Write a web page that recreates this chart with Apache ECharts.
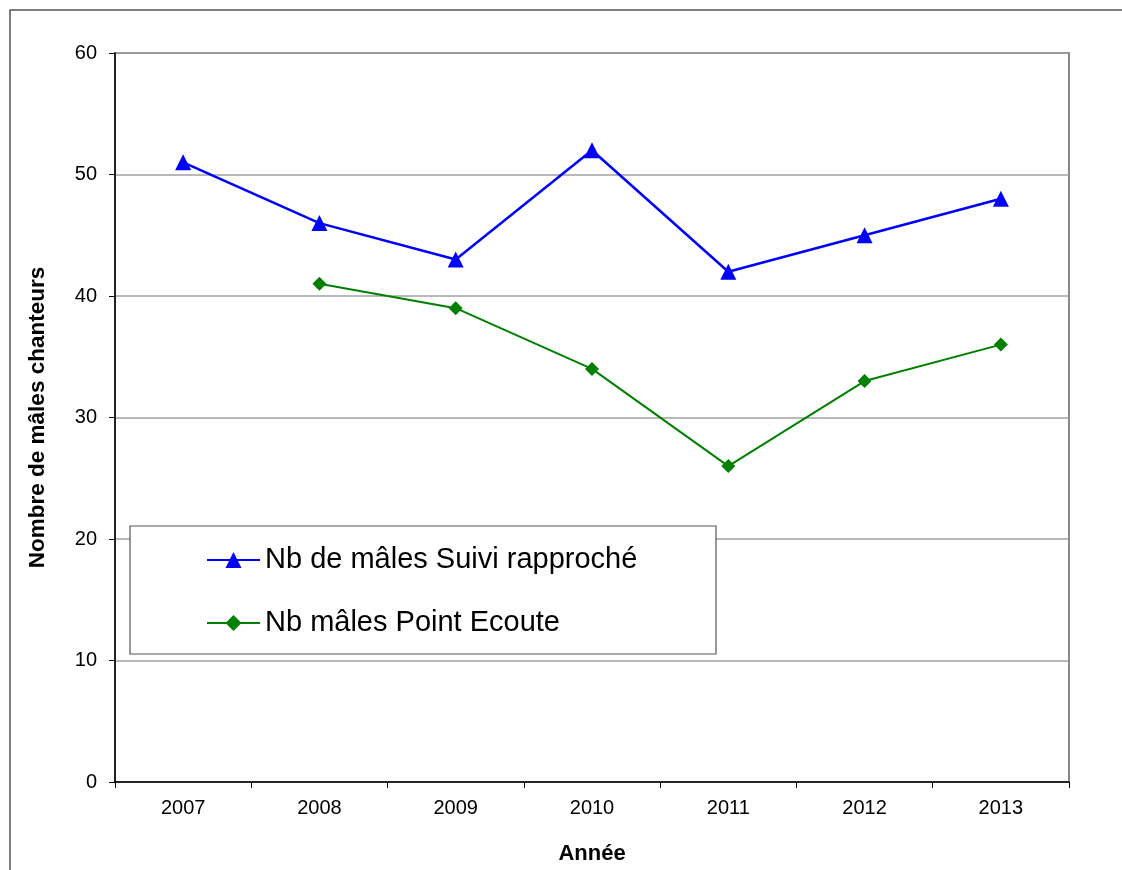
<!DOCTYPE html>
<html>
<head>
<meta charset="utf-8">
<script src="https://cdn.jsdelivr.net/npm/echarts@6/dist/echarts.min.js"></script>
<style>html,body{margin:0;padding:0;background:#fff}#c{width:1122px;height:870px}</style>
</head>
<body>
<div id="c"></div>
<script>
var years = ['2007','2008','2009','2010','2011','2012','2013'];
var suiviRapproche = [51, 46, 43, 52, 42, 45, 48];
var pointEcoute = [null, 41, 39, 34, 26, 33, 36];
var seriesNames = ['Nb de mâles Suivi rapproché', 'Nb mâles Point Ecoute'];
var yTitle = 'Nombre de mâles chanteurs';
var xTitle = 'Année';

var chart = echarts.init(document.getElementById('c'), null, {renderer: 'canvas'});
var font = 'Liberation Sans, Arial, sans-serif';
chart.setOption({
  animation: false,
  backgroundColor: '#fff',
  textStyle: {fontFamily: font},
  graphic: [
    {type: 'rect', z: 0, shape: {x: 10, y: 10, width: 1200, height: 900}, style: {fill: 'none', stroke: '#555', lineWidth: 1.5}},
    {type: 'rect', z: 50, shape: {x: 130, y: 526, width: 586, height: 128}, style: {fill: '#fff', stroke: '#555', lineWidth: 1.2}}
  ],
  grid: {left: 115, top: 53, right: 53, bottom: 88, outerBoundsMode: 'none', containLabel: false,
         show: true, borderColor: '#888', borderWidth: 2, backgroundColor: '#fff'},
  legend: {
    z: 100, orient: 'vertical', left: 201, top: 540, itemGap: 33, itemWidth: 53, itemHeight: 20,
    textStyle: {fontSize: 29, lineHeight: 30, color: '#000', fontFamily: font},
    data: seriesNames
  },
  xAxis: {
    type: 'category', data: years, boundaryGap: true,
    name: xTitle, nameLocation: 'middle', nameGap: 61,
    nameTextStyle: {fontSize: 22, fontWeight: 'bold', color: '#000'},
    axisLine: {lineStyle: {color: '#000', width: 1.5}},
    axisTick: {show: true, interval: 0, length: 6, lineStyle: {color: '#000'}},
    axisLabel: {fontSize: 20, color: '#000', margin: 16, interval: 0}
  },
  yAxis: {
    type: 'value', min: 0, max: 60, interval: 10,
    name: yTitle, nameLocation: 'middle', nameGap: 66,
    nameTextStyle: {fontSize: 22.5, fontWeight: 'bold', color: '#000'},
    axisLine: {show: true, lineStyle: {color: '#000', width: 1.5}},
    axisTick: {show: true, length: 6, lineStyle: {color: '#000'}},
    axisLabel: {fontSize: 20, color: '#000', margin: 18},
    splitLine: {lineStyle: {color: '#a0a0a0', width: 1.5}}
  },
  series: [
    {name: seriesNames[0], type: 'line', data: suiviRapproche, symbol: 'triangle', symbolSize: 16,
     lineStyle: {color: '#0000ff', width: 2.5}, itemStyle: {color: '#0000ff'}, z: 3},
    {name: seriesNames[1], type: 'line', data: pointEcoute, symbol: 'diamond', symbolSize: 14,
     lineStyle: {color: '#008000', width: 2}, itemStyle: {color: '#008000'}, z: 3}
  ]
});
</script>
</body>
</html>
